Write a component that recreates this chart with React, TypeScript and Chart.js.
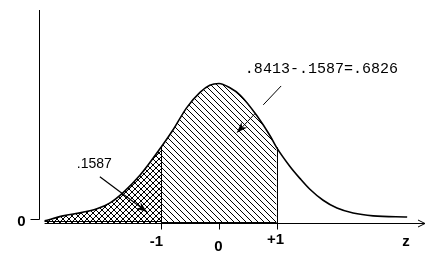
import React, { useEffect, useRef } from 'react';
import { Chart, registerables } from 'chart.js';

Chart.register(...registerables);

// ---- data ----
const zValues = [-3.03, -2.71, -2.37, -2.12, -1.9, -1.67, -1.37, -1.0, -0.8, -0.56, -0.33, -0.16, 0.0, 0.19, 0.37, 0.66, 0.89, 1.0, 1.23, 1.41, 1.58, 1.81, 2.05, 2.33, 2.68, 3.27];
const density = [0.006, 0.02, 0.03, 0.04, 0.056, 0.085, 0.135, 0.215, 0.262, 0.325, 0.368, 0.388, 0.393, 0.381, 0.36, 0.302, 0.245, 0.213, 0.16, 0.125, 0.095, 0.064, 0.042, 0.028, 0.02, 0.017];
const xTickValues = [-1, 0, 1];
const xTickLabels = ['-1', '0', '+1'];
const yTickValues = [0];
const yTickLabels = ['0'];
const leftAreaLabel = '.1587';
const middleAreaLabel = '.8413-.1587=.6826';
const axisTitle = 'z';
const shadeBounds = [-1, 1];

const zMin = -3.11;
const zMax = 3.58;
const yMax = 0.6;

function makePattern(cross: boolean): CanvasPattern | string {
  const s = 6;
  const c = document.createElement('canvas');
  c.width = s;
  c.height = s;
  const g = c.getContext('2d');
  if (!g) return 'rgba(0,0,0,0.2)';
  g.fillStyle = '#000';
  for (let i = 0; i < s; i++) {
    g.fillRect(i, i, 1, 1);
    if (cross) g.fillRect(s - 1 - i, i, 1, 1);
  }
  return g.createPattern(c, 'repeat') || 'rgba(0,0,0,0.2)';
}

function valueAt(z: number): number {
  for (let i = 0; i < zValues.length - 1; i++) {
    if (z >= zValues[i] && z <= zValues[i + 1]) {
      const t = (z - zValues[i]) / (zValues[i + 1] - zValues[i]);
      return density[i] + t * (density[i + 1] - density[i]);
    }
  }
  return 0;
}

function arrowHead(ctx: CanvasRenderingContext2D, x0: number, y0: number, x1: number, y1: number, len: number, half: number) {
  const a = Math.atan2(y1 - y0, x1 - x0);
  ctx.beginPath();
  ctx.moveTo(x1, y1);
  ctx.lineTo(x1 - len * Math.cos(a) + half * Math.sin(a), y1 - len * Math.sin(a) - half * Math.cos(a));
  ctx.lineTo(x1 - len * Math.cos(a) * 0.7, y1 - len * Math.sin(a) * 0.7);
  ctx.lineTo(x1 - len * Math.cos(a) - half * Math.sin(a), y1 - len * Math.sin(a) + half * Math.cos(a));
  ctx.closePath();
  ctx.fill();
}

const decorPlugin = {
  id: 'decor',
  afterDraw(chart: any) {
    const { ctx, scales } = chart;
    const xs = scales.x;
    const ys = scales.y;
    const px = (v: number) => xs.getPixelForValue(v);
    const py = (v: number) => ys.getPixelForValue(v);
    const base = Math.round(py(0)) + 0.5;
    ctx.save();
    ctx.strokeStyle = '#000';
    ctx.fillStyle = '#000';
    ctx.lineWidth = 1;

    // y axis
    const yAxisX = Math.round(xs.left) - 0.5;
    const yZero = base - 4;
    ctx.beginPath();
    ctx.moveTo(yAxisX, Math.round(ys.top));
    ctx.lineTo(yAxisX, yZero);
    ctx.stroke();
    yTickValues.forEach((v, i) => {
      const yy = py(v) - 4 + 0.5;
      ctx.beginPath();
      ctx.moveTo(yAxisX - 9, Math.round(yy) - 0.5);
      ctx.lineTo(yAxisX, Math.round(yy) - 0.5);
      ctx.stroke();
      ctx.font = 'bold 15px "Liberation Sans", Arial, sans-serif';
      ctx.textAlign = 'center';
      ctx.textBaseline = 'middle';
      ctx.fillText(yTickLabels[i], yAxisX - 18, yy + 2);
    });

    // x axis
    const xStart = px(zValues[0]);
    const xEnd = Math.round(xs.right);
    ctx.beginPath();
    ctx.moveTo(xStart, base);
    ctx.lineTo(xEnd, base);
    ctx.stroke();
    ctx.beginPath();
    ctx.moveTo(xEnd - 7, base - 3.5);
    ctx.lineTo(xEnd, base);
    ctx.lineTo(xEnd - 7, base + 3.5);
    ctx.stroke();

    // baseline detail
    const a = px(shadeBounds[0]);
    const b = px(shadeBounds[1]);
    ctx.beginPath();
    ctx.moveTo(xStart, base - 2);
    ctx.lineTo(a, base - 2);
    ctx.stroke();
    ctx.beginPath();
    ctx.moveTo(a, base - 1);
    ctx.lineTo(b, base - 1);
    ctx.stroke();

    // ticks + labels
    const labelDx = [-5, -1, -2];
    const labelBase = [245, 250, 243].map((v) => v - 223);
    ctx.font = 'bold 15px "Liberation Sans", Arial, sans-serif';
    ctx.textAlign = 'center';
    ctx.textBaseline = 'alphabetic';
    xTickValues.forEach((v, i) => {
      const xx = Math.round(px(v)) + 0.5;
      ctx.beginPath();
      ctx.moveTo(xx, base);
      ctx.lineTo(xx, base + 6);
      ctx.stroke();
      ctx.fillText(xTickLabels[i], xx + labelDx[i], base + labelBase[i]);
    });
    ctx.fillText(axisTitle, xEnd - 19, base + 22);

    // vertical bounds of shaded region
    shadeBounds.forEach((z) => {
      const xx = Math.round(px(z)) + 0.5;
      ctx.beginPath();
      ctx.moveTo(xx, py(valueAt(z)));
      ctx.lineTo(xx, base);
      ctx.stroke();
    });

    // annotation: left tail
    ctx.font = '14px "Liberation Sans", Arial, sans-serif';
    ctx.textAlign = 'left';
    ctx.fillText(leftAreaLabel, px(-2.47), py(0.155));
    const a1x0 = px(-2.07), a1y0 = py(0.13), a1x1 = px(-1.25), a1y1 = py(0.031);
    ctx.lineWidth = 1.2;
    ctx.beginPath();
    ctx.moveTo(a1x0, a1y0);
    ctx.lineTo(a1x1, a1y1);
    ctx.stroke();
    arrowHead(ctx, a1x0, a1y0, a1x1, a1y1, 11, 4);

    // annotation: middle
    ctx.font = '15px "Liberation Mono", "DejaVu Sans Mono", monospace';
    ctx.fillText(middleAreaLabel, px(0.45), py(0.423));
    const a2x0 = px(1.08), a2y0 = py(0.386), a2x1 = px(0.31), a2y1 = py(0.254);
    ctx.lineWidth = 1;
    ctx.setLineDash([26, 12]);
    ctx.beginPath();
    ctx.moveTo(a2x0, a2y0);
    ctx.lineTo(a2x1, a2y1);
    ctx.stroke();
    ctx.setLineDash([]);
    arrowHead(ctx, a2x0, a2y0, a2x1, a2y1, 11, 4);

    ctx.restore();
  },
};

export default function App() {
  const ref = useRef<HTMLCanvasElement | null>(null);

  useEffect(() => {
    document.body.style.margin = '0';
    const canvas = ref.current;
    if (!canvas) return;
    const leftPts = zValues.map((z, i) => ({ x: z, y: density[i] })).filter((p) => p.x <= shadeBounds[0]);
    const midPts = zValues.map((z, i) => ({ x: z, y: density[i] })).filter((p) => p.x >= shadeBounds[0] && p.x <= shadeBounds[1]);
    const allPts = zValues.map((z, i) => ({ x: z, y: density[i] }));

    const chart = new Chart(canvas, {
      type: 'line',
      data: {
        datasets: [
          {
            data: leftPts,
            borderWidth: 0,
            borderColor: 'rgba(0,0,0,0)',
            backgroundColor: makePattern(true) as any,
            fill: 'origin',
            pointRadius: 0,
            cubicInterpolationMode: 'monotone',
            order: 3,
          },
          {
            data: midPts,
            borderWidth: 0,
            borderColor: 'rgba(0,0,0,0)',
            backgroundColor: makePattern(false) as any,
            fill: 'origin',
            pointRadius: 0,
            cubicInterpolationMode: 'monotone',
            order: 2,
          },
          {
            data: allPts,
            borderWidth: 1.6,
            borderColor: '#000',
            backgroundColor: 'rgba(0,0,0,0)',
            fill: false,
            pointRadius: 0,
            cubicInterpolationMode: 'monotone',
            order: 1,
          },
        ],
      },
      options: {
        responsive: false,
        animation: false,
        layout: { padding: { left: 40, right: 16, top: 10, bottom: 43 } },
        plugins: { legend: { display: false }, tooltip: { enabled: false } },
        scales: {
          x: { type: 'linear', min: zMin, max: zMax, display: false },
          y: { type: 'linear', min: 0, max: yMax, display: false },
        },
        events: [],
      },
      plugins: [decorPlugin],
    });
    return () => chart.destroy();
  }, []);

  return <canvas ref={ref} width={441} height={266} style={{ display: 'block', width: 441, height: 266 }} />;
}
